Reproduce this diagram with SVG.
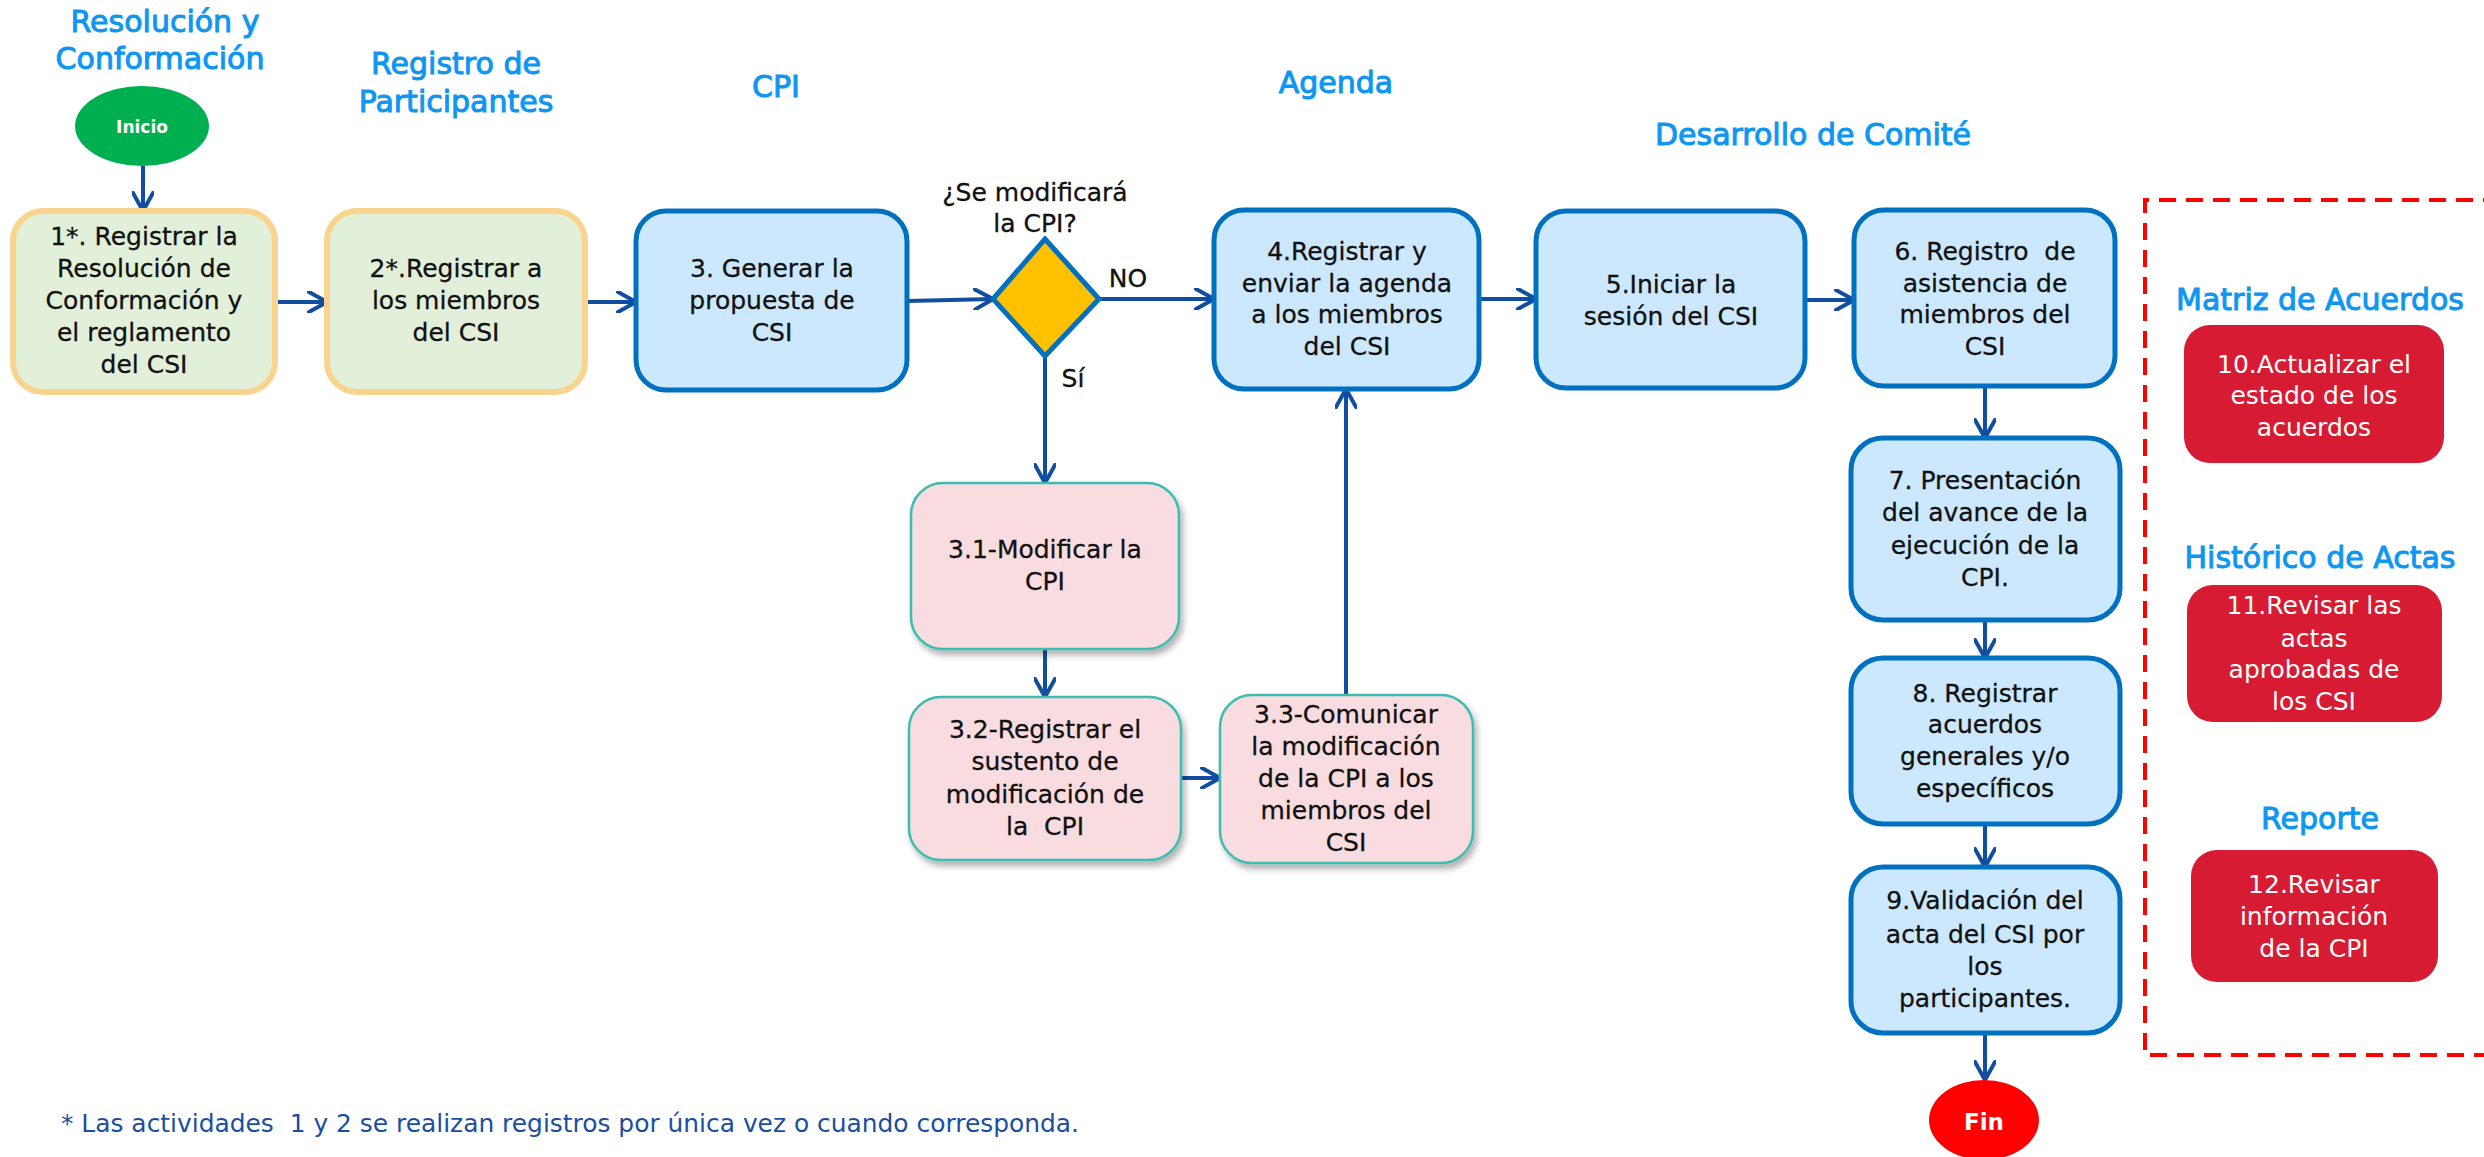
<svg xmlns="http://www.w3.org/2000/svg" width="2484" height="1157" viewBox="0 0 2484 1157">
<style>
  .t { font-family: "DejaVu Sans", "Noto Sans", sans-serif; font-size: 25px; fill: #111; stroke: #111; stroke-width: 0.3; text-anchor: middle; }
  .title { font-family: "DejaVu Sans", "Noto Sans", sans-serif; font-size: 30px; fill: #0D96F2; stroke: #0D96F2; stroke-width: 1; text-anchor: middle; }
  .w { font-family: "DejaVu Sans", "Noto Sans", sans-serif; font-size: 25px; fill: #fff; text-anchor: middle; }
  .green { fill: #E2F0D9; stroke: #F8D48E; stroke-width: 6; }
  .blue { fill: #CCE8FF; stroke: #0070C0; stroke-width: 5; }
  .pink { fill: #F9DCE0; stroke: #3DBDB0; stroke-width: 2.5; filter: url(#sh); }
  .red { fill: #D71B32; }
  .conn { stroke: #114EA1; stroke-width: 4; fill: none; }
  .arr { marker-end: url(#ah); }
</style>
<defs>
  <marker id="ah" markerUnits="userSpaceOnUse" viewBox="0 0 22 22" markerWidth="22" markerHeight="22" refX="20" refY="11" orient="auto">
    <path d="M2,1 L20,11 L2,21" fill="none" stroke="#114EA1" stroke-width="4" stroke-linecap="round" stroke-linejoin="miter"/>
  </marker>
  <filter id="sh" x="-10%" y="-10%" width="130%" height="130%">
    <feDropShadow dx="3" dy="5" stdDeviation="3" flood-color="#000" flood-opacity="0.3"/>
  </filter>
</defs>
<rect width="2484" height="1157" fill="#fff"/>

<g id="titles">
  <text class="title" x="165" y="32">Resolución y</text>
  <text class="title" x="160" y="69">Conformación</text>
  <text class="title" x="456" y="74">Registro de</text>
  <text class="title" x="456" y="112">Participantes</text>
  <text class="title" x="776" y="97">CPI</text>
  <text class="title" x="1336" y="93">Agenda</text>
  <text class="title" x="1813" y="145">Desarrollo de Comité</text>
  <text class="title" x="2320" y="310">Matriz de Acuerdos</text>
  <text class="title" x="2320" y="568">Histórico de Actas</text>
  <text class="title" x="2320" y="829">Reporte</text>
</g>

<g id="connectors">
  <line class="conn arr" x1="143" y1="166" x2="143" y2="211"/>
  <line class="conn arr" x1="275" y1="302" x2="327" y2="302"/>
  <line class="conn arr" x1="585" y1="302" x2="636" y2="302"/>
  <line class="conn arr" x1="907" y1="301" x2="993" y2="299"/>
  <line class="conn arr" x1="1099" y1="299" x2="1214" y2="299"/>
  <line class="conn arr" x1="1045" y1="356" x2="1045" y2="483"/>
  <line class="conn arr" x1="1045" y1="649" x2="1045" y2="697"/>
  <line class="conn arr" x1="1181" y1="778" x2="1220" y2="778"/>
  <line class="conn arr" x1="1346" y1="695" x2="1346" y2="389"/>
  <line class="conn arr" x1="1479" y1="299" x2="1536" y2="299"/>
  <line class="conn arr" x1="1805" y1="300" x2="1854" y2="300"/>
  <line class="conn arr" x1="1985" y1="386" x2="1985" y2="438"/>
  <line class="conn arr" x1="1985" y1="620" x2="1985" y2="658"/>
  <line class="conn arr" x1="1985" y1="824" x2="1985" y2="867"/>
  <line class="conn arr" x1="1985" y1="1033" x2="1985" y2="1080"/>
  <text class="t" x="1128" y="287">NO</text>
  <text class="t" x="1073" y="387">Sí</text>
</g>

<g id="inicio">
  <ellipse cx="142" cy="126" rx="67" ry="40" fill="#00B050"/>
  <text x="142" y="133" font-family="DejaVu Sans, sans-serif" font-size="17" font-weight="bold" fill="#fff" text-anchor="middle">Inicio</text>
</g>

<g id="n1">
  <rect class="green" x="13" y="211" width="262" height="181" rx="30"/>
  <text class="t" x="144" y="245">1*. Registrar la</text>
  <text class="t" x="144" y="277">Resolución de</text>
  <text class="t" x="144" y="309">Conformación y</text>
  <text class="t" x="144" y="341">el reglamento</text>
  <text class="t" x="144" y="373">del CSI</text>
</g>

<g id="n2">
  <rect class="green" x="327" y="211" width="258" height="181" rx="30"/>
  <text class="t" x="456" y="277">2*.Registrar a</text>
  <text class="t" x="456" y="309">los miembros</text>
  <text class="t" x="456" y="341">del CSI</text>
</g>

<g id="n3">
  <rect class="blue" x="636" y="211" width="271" height="179" rx="30"/>
  <text class="t" x="772" y="277">3. Generar la</text>
  <text class="t" x="772" y="309">propuesta de</text>
  <text class="t" x="772" y="341">CSI</text>
</g>

<g id="decision">
  <polygon points="1045,239 1099,299 1045,356 993,299" fill="#FFC000" stroke="#0070C0" stroke-width="5" stroke-linejoin="miter"/>
  <text class="t" x="1035" y="201">¿Se modificará</text>
  <text class="t" x="1035" y="232">la CPI?</text>
</g>

<g id="n31">
  <rect class="pink" x="911" y="483" width="268" height="166" rx="32"/>
  <text class="t" x="1045" y="558">3.1-Modificar la</text>
  <text class="t" x="1045" y="590">CPI</text>
</g>

<g id="n32">
  <rect class="pink" x="909" y="697" width="272" height="163" rx="32"/>
  <text class="t" x="1045" y="738">3.2-Registrar el</text>
  <text class="t" x="1045" y="770">sustento de</text>
  <text class="t" x="1045" y="803">modificación de</text>
  <text class="t" x="1045" y="835" xml:space="preserve">la  CPI</text>
</g>

<g id="n33">
  <rect class="pink" x="1220" y="695" width="253" height="168" rx="32"/>
  <text class="t" x="1346" y="723">3.3-Comunicar</text>
  <text class="t" x="1346" y="755">la modificación</text>
  <text class="t" x="1346" y="787">de la CPI a los</text>
  <text class="t" x="1346" y="819">miembros del</text>
  <text class="t" x="1346" y="851">CSI</text>
</g>

<g id="n4">
  <rect class="blue" x="1214" y="210" width="265" height="179" rx="30"/>
  <text class="t" x="1347" y="260">4.Registrar y</text>
  <text class="t" x="1347" y="292">enviar la agenda</text>
  <text class="t" x="1347" y="323">a los miembros</text>
  <text class="t" x="1347" y="355">del CSI</text>
</g>

<g id="n5">
  <rect class="blue" x="1536" y="211" width="269" height="177" rx="30"/>
  <text class="t" x="1671" y="293">5.Iniciar la</text>
  <text class="t" x="1671" y="325">sesión del CSI</text>
</g>

<g id="n6">
  <rect class="blue" x="1854" y="210" width="261" height="176" rx="30"/>
  <text class="t" x="1985" y="260" xml:space="preserve">6. Registro  de</text>
  <text class="t" x="1985" y="292">asistencia de</text>
  <text class="t" x="1985" y="323">miembros del</text>
  <text class="t" x="1985" y="355">CSI</text>
</g>

<g id="n7">
  <rect class="blue" x="1851" y="438" width="269" height="182" rx="32"/>
  <text class="t" x="1985" y="489">7. Presentación</text>
  <text class="t" x="1985" y="521">del avance de la</text>
  <text class="t" x="1985" y="554">ejecución de la</text>
  <text class="t" x="1985" y="586">CPI.</text>
</g>

<g id="n8">
  <rect class="blue" x="1851" y="658" width="269" height="166" rx="32"/>
  <text class="t" x="1985" y="702">8. Registrar</text>
  <text class="t" x="1985" y="733">acuerdos</text>
  <text class="t" x="1985" y="765">generales y/o</text>
  <text class="t" x="1985" y="797">específicos</text>
</g>

<g id="n9">
  <rect class="blue" x="1851" y="867" width="269" height="166" rx="32"/>
  <text class="t" x="1985" y="909">9.Validación del</text>
  <text class="t" x="1985" y="943">acta del CSI por</text>
  <text class="t" x="1985" y="975">los</text>
  <text class="t" x="1985" y="1007">participantes.</text>
</g>

<g id="fin">
  <ellipse cx="1984" cy="1120" rx="55" ry="40" fill="#FF0000"/>
  <text x="1984" y="1130" font-family="DejaVu Sans, sans-serif" font-size="23" font-weight="bold" fill="#fff" text-anchor="middle">Fin</text>
</g>

<g id="modules">
  <path d="M2500,200 H2145 V1055 H2500" fill="none" stroke="#FF0000" stroke-width="4" stroke-dasharray="17 10"/>
</g>

<g id="n10">
  <rect class="red" x="2184" y="325" width="260" height="138" rx="26"/>
  <text class="w" x="2314" y="373">10.Actualizar el</text>
  <text class="w" x="2314" y="404">estado de los</text>
  <text class="w" x="2314" y="436">acuerdos</text>
</g>

<g id="n11">
  <rect class="red" x="2187" y="585" width="255" height="137" rx="26"/>
  <text class="w" x="2314" y="614">11.Revisar las</text>
  <text class="w" x="2314" y="647">actas</text>
  <text class="w" x="2314" y="678">aprobadas de</text>
  <text class="w" x="2314" y="710">los CSI</text>
</g>

<g id="n12">
  <rect class="red" x="2191" y="850" width="247" height="132" rx="26"/>
  <text class="w" x="2314" y="893">12.Revisar</text>
  <text class="w" x="2314" y="925">información</text>
  <text class="w" x="2314" y="957">de la CPI</text>
</g>

<g id="note">
  <text x="61" y="1132" font-family="DejaVu Sans, sans-serif" font-size="24" fill="#1A4EA0" textLength="1018" lengthAdjust="spacingAndGlyphs" xml:space="preserve">* Las actividades  1 y 2 se realizan registros por única vez o cuando corresponda.</text>
</g>
</svg>
